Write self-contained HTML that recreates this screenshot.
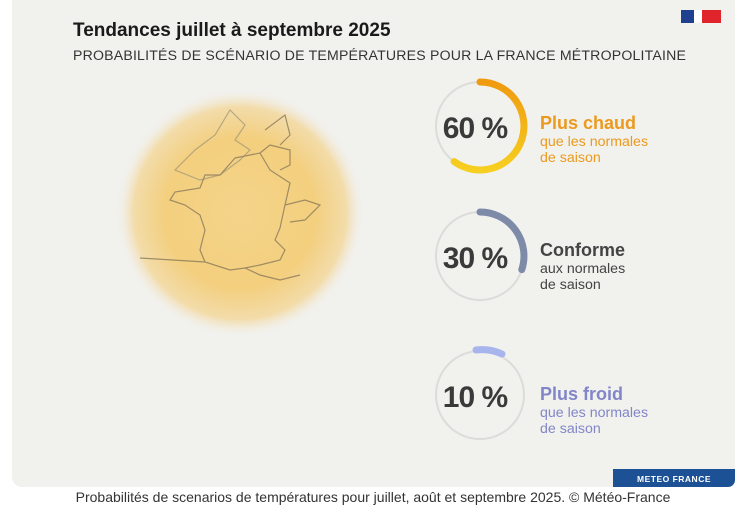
<!DOCTYPE html>
<html><head><meta charset="utf-8"><style>
body{margin:0;width:741px;height:522px;background:#fff;font-family:"Liberation Sans",sans-serif;position:relative;overflow:hidden}
.panel{position:absolute;left:12px;top:0;width:723px;height:487px;background:#f1f1ee;border-radius:0 0 10px 10px}
.t{position:absolute;white-space:nowrap}
</style></head><body>
<div class="panel"></div>
<div class="t" style="left:73px;top:20px;font-size:19px;font-weight:bold;color:#1a1a1a">Tendances juillet à septembre 2025</div>
<div class="t" style="left:73px;top:47px;font-size:14.1px;color:#333;letter-spacing:0.2px">PROBABILITÉS DE SCÉNARIO DE TEMPÉRATURES POUR LA FRANCE MÉTROPOLITAINE</div>
<svg width="741" height="522" style="position:absolute;left:0;top:0">
<defs><radialGradient id="g" cx="0.5" cy="0.5" r="0.5">
<stop offset="0" stop-color="#f5d48a"/><stop offset="0.6" stop-color="#f3cf7e"/><stop offset="0.85" stop-color="#f3dcaa"/><stop offset="1" stop-color="#f1f1ee" stop-opacity="0"/></radialGradient></defs>
<rect x="681" y="10" width="13" height="13" fill="#1f3f8f"/><rect x="694" y="10" width="8" height="13" fill="#fff"/><rect x="702" y="10" width="19" height="13" fill="#e0242c"/>
<circle cx="240" cy="213" r="125" fill="url(#g)"/>
<g fill="none" stroke="#8a7a5a" stroke-width="1.2" opacity="0.8">
<path d="M200 180 L220 175 L240 160 L250 150 L235 140 L245 125 L230 110 L215 135 L195 150 L175 170 Z" stroke="#a89b7a"/>
<path d="M235 158 L260 153 L270 170 L290 183 L285 205 L280 228 L275 240 L285 250 L280 260 L260 265 L245 268 L230 270 L205 262 L200 250 L205 230 L200 215 L185 205 L170 200 L175 192 L200 188 L205 175 L220 175 Z"/>
<path d="M260 153 L270 145 L290 150 L290 165 L280 170"/>
<path d="M285 205 L305 200 L320 205 L305 220 L290 222"/>
<path d="M140 258 L205 262"/>
<path d="M245 268 L260 275 L280 280 L300 275"/>
<path d="M265 130 L285 115 L290 135 L280 145"/>
</g>
<circle cx="480" cy="126" r="44" fill="none" stroke="#dcdcda" stroke-width="2"/>
<circle cx="480" cy="256" r="44" fill="none" stroke="#dcdcda" stroke-width="2"/>
<circle cx="480" cy="395" r="44" fill="none" stroke="#dcdcda" stroke-width="2"/>
<defs><linearGradient id="o" x1="0" y1="0" x2="0" y2="1"><stop offset="0" stop-color="#f09a10"/><stop offset="1" stop-color="#f6cf20"/></linearGradient></defs>
<path d="M480 82 A44 44 0 1 1 454.1 161.6" fill="none" stroke="url(#o)" stroke-width="7" stroke-linecap="round"/>
<path d="M480 212 A44 44 0 0 1 521.8 269.6" fill="none" stroke="#7d8aa8" stroke-width="7" stroke-linecap="round"/>
<path d="M476 350 A48 48 0 0 1 502 354" fill="none" stroke="#a8b4ec" stroke-width="7" stroke-linecap="round"/>
<g font-size="30" font-weight="bold" fill="#3a3a3a" text-anchor="middle" letter-spacing="-1">
<text x="475" y="138">60 %</text>
<text x="475" y="268">30 %</text>
<text x="475" y="407">10 %</text>
</g>
<text x="540" y="129" font-size="18" font-weight="bold" fill="#eb9a1e">Plus chaud</text>
<text x="540" y="146" font-size="14.2" fill="#eb9a1e">que les normales</text>
<text x="540" y="162" font-size="14.2" fill="#eb9a1e">de saison</text>
<text x="540" y="256" font-size="18" font-weight="bold" fill="#444">Conforme</text>
<text x="540" y="273" font-size="14.2" fill="#444">aux normales</text>
<text x="540" y="289" font-size="14.2" fill="#444">de saison</text>
<text x="540" y="400" font-size="18" font-weight="bold" fill="#8286c8">Plus froid</text>
<text x="540" y="417" font-size="14.2" fill="#8286c8">que les normales</text>
<text x="540" y="433" font-size="14.2" fill="#8286c8">de saison</text>
<path d="M613 469 H735 V480 A7 7 0 0 1 728 487 H613 Z" fill="#1d5196"/>
<text x="674" y="482" text-anchor="middle" font-size="8.5" font-weight="bold" fill="#fff" letter-spacing="0.5">METEO FRANCE</text>
</svg>
<div class="t" style="left:0;width:746px;text-align:center;top:489px;font-size:14px;color:#333">Probabilités de scenarios de températures pour juillet, août et septembre 2025. © Météo-France</div>
</body></html>
